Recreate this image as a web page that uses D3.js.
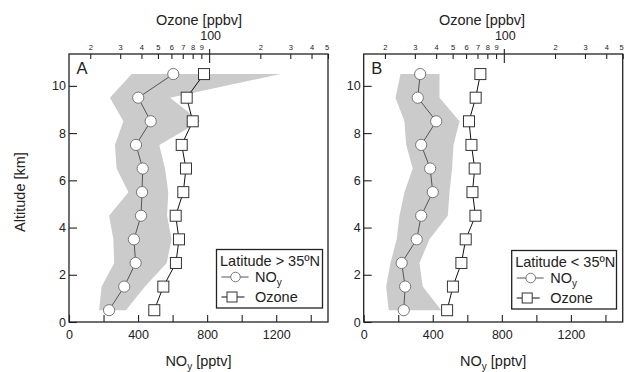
<!DOCTYPE html>
<html><head><meta charset="utf-8">
<script src="https://cdn.jsdelivr.net/npm/d3@7"></script>
<style>
body{margin:0;background:#fff;}
svg{display:block;font-family:"Liberation Sans",Arial,Helvetica,sans-serif;}
</style></head>
<body><svg id="c" width="624" height="372"></svg>
<script>
// ---- data ----
const altitude = [0.5,1.5,2.5,3.5,4.5,5.5,6.5,7.5,8.5,9.5,10.5];
// Panel A: Latitude > 35ºN
const noyA     = [232,320,386,376,417,423,427,388,473,401,604];
const noyLowA  = [174,189,262,257,232,344,276,266,315,237,363];
const noyHighA = [330,440,566,594,568,575,556,523,759,585,1226];
const ozoneA   = [47.6,53.8,63.8,66.5,63.6,70.5,73.1,69.0,80.1,73.8,93.3];
// Panel B: Latitude < 35ºN
const noyB     = [232,240,220,307,333,400,385,333,420,313,327];
const noyLowB  = [145,130,155,191,207,236,284,246,236,184,213];
const noyHighB = [449,342,323,381,487,497,512,520,555,439,439];
const ozoneB   = [46.4,50.2,56.3,59.7,68.1,65.4,67.4,64.5,62.4,68.3,72.8];
// ticks
const noyTicks = [0,200,400,600,800,1000,1200,1400];
const noyLabelTicks = [0,400,800,1200];
const ozoneTicks = [20,30,40,50,60,70,80,90,100,200,300,400,500];
const altTicks = [0,2,4,6,8,10];
const panels = [
  {letter:"A", legend:"Latitude > 35ºN", noy:noyA, low:noyLowA, high:noyHighA, oz:ozoneA,
   left:69, legX:216.5, legY:249.5, legW:106, titleX:199, yLabel:true},
  {letter:"B", legend:"Latitude < 35ºN", noy:noyB, low:noyLowB, high:noyHighB, oz:ozoneB,
   left:363.7, legX:511.7, legY:250.5, legW:104.8, titleX:482, yLabel:false}
];

const svg = d3.select("#c");
const W = 259, plotTop = 54, plotBottom = 322;
const ink = "#222";

const y = d3.scaleLinear().domain([0,11.35]).range([plotBottom, plotTop]);

panels.forEach(p => {
  const g = svg.append("g").attr("transform", `translate(${p.left},0)`);
  const x = d3.scaleLinear().domain([0,1500]).range([0,W]);
  const xo = d3.scaleLog().domain([15,500]).range([0,W]);
  const rows = altitude.map((a,i)=>({a, noy:p.noy[i], lo:p.low[i], hi:p.high[i], oz:p.oz[i]}));

  // band
  g.append("path").datum(rows)
    .attr("d", d3.area().y(d=>y(d.a)).x0(d=>x(d.lo)).x1(d=>x(d.hi)))
    .attr("fill","#cbcbcb");

  // NOy line + circles
  g.append("path").datum(rows)
    .attr("d", d3.line().x(d=>x(d.noy)).y(d=>y(d.a)))
    .attr("fill","none").attr("stroke","#555").attr("stroke-width",1);
  g.selectAll("circle.n").data(rows).join("circle")
    .attr("cx",d=>x(d.noy)).attr("cy",d=>y(d.a)).attr("r",5.6)
    .attr("fill","#fff").attr("stroke","#777").attr("stroke-width",1);

  // Ozone line + squares
  g.append("path").datum(rows)
    .attr("d", d3.line().x(d=>xo(d.oz)).y(d=>y(d.a)))
    .attr("fill","none").attr("stroke","#111").attr("stroke-width",1);
  g.selectAll("rect.o").data(rows).join("rect")
    .attr("x",d=>xo(d.oz)-5.5).attr("y",d=>y(d.a)-5.5).attr("width",11).attr("height",11)
    .attr("fill","#fff").attr("stroke","#333").attr("stroke-width",1);

  // bottom axis
  const bAx = g.append("g").attr("transform",`translate(0,${plotBottom})`)
    .call(d3.axisBottom(x).tickValues(noyTicks).tickSize(-7).tickPadding(8)
      .tickFormat(v => noyLabelTicks.includes(v) ? String(v) : ""));
  // left axis
  const lAx = g.append("g")
    .call(d3.axisLeft(y).tickValues(altTicks).tickSize(-8).tickPadding(3));
  // top axis (inward ticks)
  const tAx = g.append("g").attr("transform",`translate(0,${plotTop})`)
    .call(d3.axisTop(xo).tickValues(ozoneTicks).tickSize(-5).tickPadding(4)
      .tickFormat(v => v===100 ? "100" : String(v/(v>=100?100:10))));
  [bAx,lAx,tAx].forEach(a=>{
    a.select(".domain").remove();
    a.selectAll("line").attr("stroke",ink).attr("stroke-width",1.1);
    a.selectAll("text").attr("fill",ink).attr("font-family",null).attr("font-size",12.5);
  });
  tAx.selectAll(".tick text").attr("font-size",7.5).attr("dy","0");
  tAx.selectAll(".tick").filter(d=>d===100).select("text")
    .attr("font-size",12.5).attr("dy","-10px").attr("dx","1");
  tAx.selectAll(".tick").filter(d=>d===100).select("line")
    .attr("y1",-5).attr("y2",9);
  tAx.selectAll(".tick").filter(d=>d===500).select("text").attr("dx","-1.5");

  // frame
  g.append("rect").attr("x",0).attr("y",plotTop).attr("width",W).attr("height",plotBottom-plotTop)
    .attr("fill","none").attr("stroke",ink).attr("stroke-width",1.3);

  // letter
  g.append("text").attr("x",7.5).attr("y",74).attr("font-size",16.5).attr("fill",ink).text(p.letter);

  // titles
  svg.append("text").attr("x",p.titleX).attr("y",25).attr("text-anchor","middle")
    .attr("font-size",14.5).attr("fill",ink).text("Ozone [ppbv]");
  const xl = svg.append("text").attr("x",p.left+W/2).attr("y",366).attr("text-anchor","middle")
    .attr("font-size",14.5).attr("fill",ink);
  xl.append("tspan").text("NO");
  xl.append("tspan").attr("font-size",10).attr("dy",4).text("y");
  xl.append("tspan").attr("dy",-4).text(" [pptv]");

  // legend
  const L = svg.append("g").attr("transform",`translate(${p.legX},${p.legY})`);
  L.append("rect").attr("width",p.legW).attr("height",58.5)
    .attr("fill","#fff").attr("stroke",ink).attr("stroke-width",1.3);
  L.append("text").attr("x",3.5).attr("y",16).attr("font-size",14.5).attr("fill",ink).text(p.legend);
  L.append("line").attr("x1",5).attr("x2",32).attr("y1",27.5).attr("y2",27.5).attr("stroke","#555");
  L.append("circle").attr("cx",19).attr("cy",27.5).attr("r",4.8).attr("fill","#fff").attr("stroke","#777");
  const t1 = L.append("text").attr("x",38.5).attr("y",32).attr("font-size",14.5).attr("fill",ink);
  t1.append("tspan").text("NO");
  t1.append("tspan").attr("font-size",10).attr("dy",4).text("y");
  L.append("line").attr("x1",5).attr("x2",28).attr("y1",47.5).attr("y2",47.5).attr("stroke","#111");
  L.append("rect").attr("x",10.5).attr("y",42.5).attr("width",10).attr("height",10)
    .attr("fill","#fff").attr("stroke","#333");
  L.append("text").attr("x",38.5).attr("y",52).attr("font-size",14.5).attr("fill",ink).text("Ozone");

  if (p.yLabel) {
    svg.append("text").attr("transform","translate(25,192) rotate(-90)")
      .attr("text-anchor","middle").attr("font-size",14.5).attr("fill",ink).text("Altitude [km]");
  }
});
</script></body></html>
